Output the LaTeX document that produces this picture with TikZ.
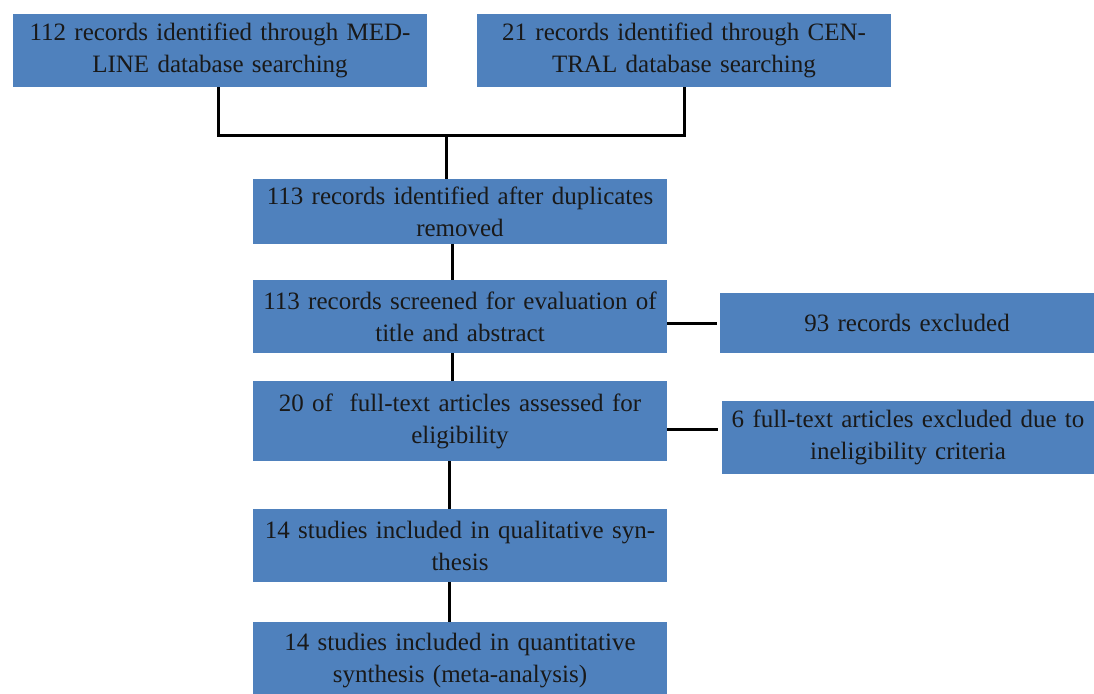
\documentclass[tikz,border=0pt]{standalone}
\usepackage{fontspec}
\setmainfont{Liberation Serif}
\usetikzlibrary{calc}
\definecolor{boxblue}{HTML}{4F81BD}
\begin{document}
\begin{tikzpicture}[x=1pt,y=-1pt,
  box/.style={fill=boxblue,draw=none,inner sep=0pt,align=center,
    font=\fontsize{25}{32}\selectfont,text=black!90,yshift=-2pt},
  wbox/.style={box,minimum width=414pt,text width=414pt},
  link/.style={draw=black,line width=3pt}]
\useasboundingbox (0,0) rectangle (1094,693);
\clip (0,0) rectangle (1094,693);
\node[wbox,minimum height=73pt] (b1) at (220,48.5) {112 records identified through MED-\\LINE database searching};
\node[wbox,minimum height=73pt] (b2) at (684,48.5) {21 records identified through CEN-\\TRAL database searching};
\node[wbox,minimum height=65pt] (b3) at (460,209.5) {113 records identified after duplicates\\removed};
\node[wbox,minimum height=73pt] (b4) at (460,314.5) {113 records screened for evaluation of\\title and abstract};
\node[box,minimum width=374pt,text width=374pt,minimum height=60pt] (b5) at (907,321) {93 records excluded};
\node[wbox,minimum height=80pt] (b6) at (460,419) {20 of\ \ full-text articles assessed for\\eligibility};
\node[box,minimum width=372pt,text width=372pt,minimum height=73pt] (b7) at (908,435.5) {6 full-text articles excluded due to\\ineligibility criteria};
\node[wbox,minimum height=73pt] (b8) at (460,543.5) {14 studies included in qualitative syn-\\thesis};
\node[wbox,minimum height=78pt] (b9) at (460,659) {14 studies included in quantitative\\synthesis (meta-analysis)};
\coordinate (jn) at (446,135);
\draw[link] ([xshift=-2pt]b1.south) |- (jn) -| (b2.south);
\draw[link] (jn) -- (jn |- b3.north);
\draw[link] ([xshift=-8pt]b3.south) -- ([xshift=-8pt]b4.north);
\draw[link] ([xshift=-8pt]b4.south) -- ([xshift=-8pt]b6.north);
\draw[link] ([xshift=-11pt]b6.south) -- ([xshift=-11pt]b8.north);
\draw[link] ([xshift=-11pt]b8.south) -- ([xshift=-11pt]b9.north);
\draw[link] (b4.east |- b5.west) -- ([xshift=-3pt]b5.west);
\draw[link] ([yshift=-8pt]b6.east) coordinate (e6) -- ([xshift=-4pt]e6 -| b7.west);
\end{tikzpicture}
\end{document}
